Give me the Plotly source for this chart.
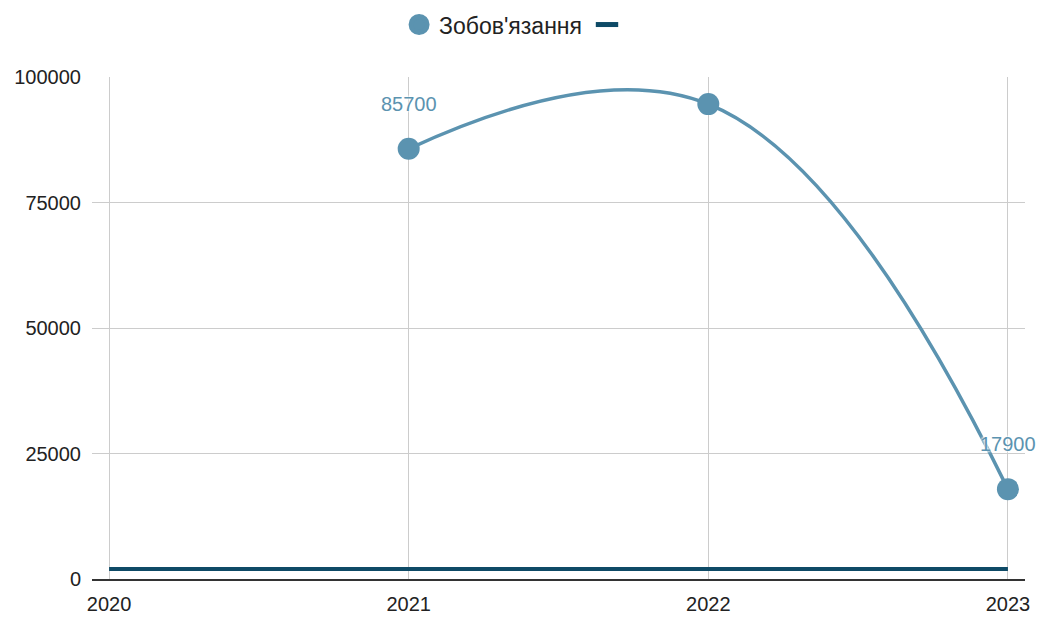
import plotly.graph_objects as go

# Data
years = [2021, 2022, 2023]
obligations = [85700, 94600, 17900]
label_shown = [True, False, True]
base_years = [2020, 2021, 2022, 2023]
base_values = [2000, 2000, 2000, 2000]
series_name = "Зобов'язання"
base_name = ""
y_ticks = [0, 25000, 50000, 75000, 100000]
x_ticks = [2020, 2021, 2022, 2023]

C_MAIN = "#5b93b0"
C_BASE = "#0e4a66"
FONT = "Liberation Sans, Arial, sans-serif"

fig = go.Figure()

fig.add_trace(go.Scatter(
    x=base_years, y=base_values, mode="lines",
    line=dict(color=C_BASE, width=4), showlegend=False, hoverinfo="skip",
))
fig.add_trace(go.Scatter(
    x=years, y=obligations, mode="lines+markers",
    line=dict(color=C_MAIN, width=3.5, shape="spline", smoothing=1.2),
    marker=dict(color=C_MAIN, size=22),
    showlegend=False, cliponaxis=False,
))
# legend entries
fig.add_trace(go.Scatter(
    x=[None], y=[None], mode="markers", name=series_name,
    marker=dict(color=C_MAIN, size=16, line=dict(color=C_MAIN, width=5)),
))
fig.add_trace(go.Scatter(
    x=[None], y=[None], mode="markers", name=base_name,
    marker=dict(color=C_BASE, size=16, symbol="line-ew", line=dict(color=C_BASE, width=5)),
))

for x, v, s in zip(years, obligations, label_shown):
    if s:
        fig.add_annotation(
            x=x, y=v, text=str(v), showarrow=False, yshift=45,
            font=dict(family=FONT, size=20, color=C_MAIN,
                      shadow="0px 0px 2px white, 0px 0px 3px white, 0px 0px 3px white"),
        )

fig.update_layout(
    width=1046, height=617,
    margin=dict(l=92, r=21, t=77, b=38),
    paper_bgcolor="white", plot_bgcolor="white",
    font=dict(family=FONT, size=20, color="#222222"),
    legend=dict(orientation="h", x=0.454, xanchor="center", y=0.995, yanchor="top",
                yref="container", font=dict(size=23, color="#222222"),
                itemclick=False),
    xaxis=dict(
        range=[2019.943, 2023.057], tickvals=x_ticks, ticktext=[str(t) for t in x_ticks],
        showgrid=True, gridcolor="#cccccc", gridwidth=1,
        showline=True, linecolor="#333333", linewidth=1.5,
        zeroline=False, ticks="", ticklabelstandoff=6, automargin=False,
    ),
    yaxis=dict(
        range=[0, 100000], tickvals=y_ticks, tickformat="d",
        showgrid=True, gridcolor="#cccccc", gridwidth=1,
        zeroline=False, showline=False, ticks="", ticklabelstandoff=10, automargin=False,
    ),
)

fig.write_html("out.html")
